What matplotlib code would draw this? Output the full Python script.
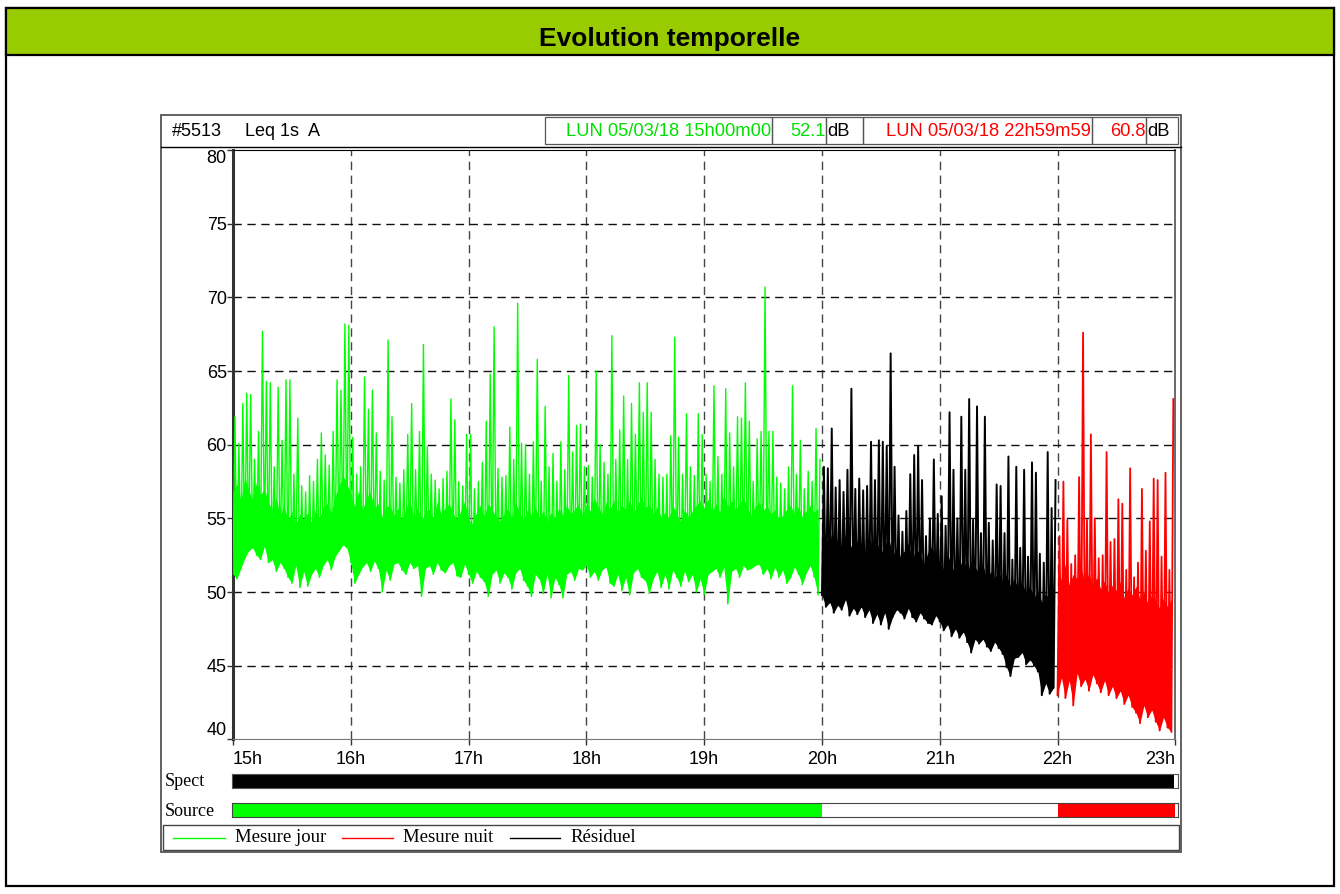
import numpy as np
import matplotlib
matplotlib.use('Agg')
import matplotlib.pyplot as plt
from matplotlib.patches import Rectangle

# Leq 1s lu par tranches de 2 minutes :
# minimum (bas), haut du nuage dense (coeur) et maximum (haut) de chaque tranche
jour_bas = [51.2, 50.9, 51.6, 52.3, 52.8, 53.0, 52.5, 52.2, 53.1, 52.0,
            52.2, 51.4, 52.0, 51.6, 51.0, 50.6, 51.8, 50.3, 51.4, 50.4,
            51.2, 51.6, 51.0, 51.8, 52.2, 51.5, 52.4, 52.8, 53.2, 53.0,
            52.0, 50.6, 51.2, 51.7, 52.0, 51.4, 52.1, 51.6, 50.0, 51.5,
            50.8, 51.9, 52.0, 51.5, 51.2, 52.0, 51.6, 51.8, 49.7, 51.6,
            51.8, 51.2, 52.0, 51.5, 51.3, 51.8, 52.0, 51.1, 51.0, 51.9,
            51.2, 50.6, 51.4, 51.0, 50.7, 49.7, 51.2, 51.5, 50.6, 51.3,
            51.0, 50.2, 51.3, 51.6, 50.8, 50.4, 49.7, 51.2, 50.9, 49.9,
            51.2, 49.6, 51.0, 50.5, 49.6, 51.2, 51.4, 50.8, 51.6, 51.5,
            51.8, 51.0, 51.4, 50.8, 51.5, 51.7, 50.6, 50.4, 51.2, 50.1,
            51.0, 49.8, 51.3, 51.6, 51.0, 50.8, 49.9, 50.9, 51.4, 50.3,
            51.2, 50.2, 51.5, 51.0, 50.4, 51.4, 50.7, 51.2, 50.0, 50.9,
            49.8, 51.2, 51.4, 51.6, 51.0, 51.7, 49.2, 51.4, 51.6, 51.0,
            51.8, 51.5, 51.6, 51.8, 51.9, 51.2, 51.6, 50.9, 51.7, 51.0,
            51.5, 50.6, 51.0, 51.7, 51.2, 50.5, 51.3, 51.8, 51.0, 49.8]
jour_coeur = [56.8, 57.4, 56.2, 57.8, 56.9, 56.3, 57.5, 56.6, 57.0, 56.1,
              55.6, 56.4, 55.2, 55.9, 54.8, 55.5, 54.6, 55.3, 54.9, 55.4,
              54.7, 55.6, 55.0, 55.8, 56.0, 55.4, 56.5, 57.2, 57.9, 57.4,
              56.6, 55.8, 56.9, 55.6, 56.4, 56.8, 55.7, 56.0, 55.1, 55.8,
              55.9, 55.2, 55.7, 54.9, 55.6, 56.3, 55.0, 55.8, 54.8, 55.5,
              55.6, 55.0, 56.1, 55.3, 55.7, 56.0, 55.4, 54.9, 55.5, 56.2,
              55.0, 54.6, 55.4, 55.9, 55.2, 56.0, 55.6, 55.1, 54.8, 55.3,
              55.7, 55.0, 56.1, 55.4, 54.9, 55.6, 55.2, 55.8, 55.0, 55.5,
              54.8, 55.4, 55.0, 55.7, 55.2, 55.9, 55.3, 55.6, 56.0, 55.2,
              56.0, 55.5, 56.4, 55.8, 55.3, 56.1, 55.6, 56.2, 55.4, 55.9,
              55.6, 56.3, 55.4, 55.9, 56.5, 55.7, 56.0, 55.3, 55.8, 55.1,
              55.4, 55.0, 55.9, 55.3, 54.8, 55.6, 55.1, 55.5, 55.9, 56.2,
              55.7, 56.3, 55.5, 56.0, 55.4, 56.6, 55.8, 56.2, 55.6, 56.0,
              56.4, 55.7, 55.2, 55.8, 56.1, 55.5, 55.9, 55.3, 55.6, 55.0,
              55.2, 55.6, 55.9, 55.3, 55.8, 55.1, 55.5, 55.9, 55.4, 55.7]
jour_haut = [61.9, 60.1, 62.8, 63.5, 63.4, 59.0, 60.9, 67.7, 64.3, 64.2,
             58.5, 63.9, 60.3, 64.4, 64.4, 58.0, 61.8, 57.2, 56.8, 57.9,
             57.5, 59.0, 60.8, 59.3, 58.6, 60.9, 64.4, 63.7, 68.2, 68.1,
             60.5, 58.0, 58.5, 64.6, 62.4, 63.7, 60.8, 58.2, 57.6, 67.1,
             61.9, 57.8, 57.4, 58.3, 60.7, 62.8, 58.3, 60.9, 66.8, 59.9,
             58.0, 57.6, 57.0, 57.7, 58.2, 63.1, 61.7, 57.5, 57.2, 60.7,
             60.7, 57.0, 57.5, 58.8, 61.6, 64.8, 68.0, 58.4, 57.8, 57.9,
             61.2, 59.0, 69.6, 60.1, 60.0, 58.0, 60.2, 65.8, 57.5, 62.6,
             58.5, 59.4, 57.5, 60.2, 58.3, 64.7, 59.5, 61.3, 61.4, 58.5,
             58.6, 57.8, 65.0, 60.0, 58.8, 58.0, 67.4, 59.0, 61.0, 63.3,
             59.0, 62.8, 60.7, 64.2, 62.2, 64.2, 62.2, 59.0, 58.0, 57.8,
             58.0, 60.6, 67.3, 60.5, 58.0, 62.1, 58.5, 57.9, 62.1, 60.7,
             58.0, 57.5, 64.0, 59.2, 58.0, 63.8, 60.8, 58.5, 61.9, 61.8,
             64.2, 61.6, 57.5, 60.4, 60.9, 70.7, 60.9, 60.9, 57.8, 57.4,
             57.0, 58.5, 64.0, 58.0, 60.3, 57.0, 58.2, 57.5, 61.1, 59.0]

residuel_bas = [49.8, 49.0, 49.3, 48.6, 49.1, 48.8, 49.5, 48.4, 48.9, 48.5,
                49.0, 48.3, 48.8, 47.9, 48.5, 47.8, 48.6, 47.5, 48.3, 48.8,
                48.6, 48.2, 48.9, 48.3, 48.0, 48.6, 48.2, 47.9, 47.8, 48.4,
                48.0, 47.4, 47.8, 47.0, 47.5, 46.9, 47.3, 46.6, 45.9, 46.8,
                46.5, 46.8, 46.3, 46.0, 46.6, 46.2, 45.8, 44.9, 44.3, 45.5,
                45.6, 45.9, 45.1, 45.4, 45.0, 44.6, 43.0, 43.8, 43.1, 43.5]
residuel_coeur = [54.0, 53.2, 54.3, 52.8, 53.6, 53.0, 53.9, 53.4, 52.7, 53.5,
                  53.1, 52.6, 53.8, 52.9, 53.4, 52.6, 53.2, 53.7, 52.5, 53.0,
                  52.4, 52.8, 53.3, 52.2, 53.0, 52.5, 51.9, 52.7, 53.1, 52.3,
                  52.0, 51.5, 52.6, 51.8, 51.2, 52.2, 51.6, 52.3, 51.0, 51.7,
                  51.3, 51.9, 50.8, 51.4, 50.9, 51.5, 50.6, 51.2, 50.4, 50.9,
                  50.2, 50.7, 49.8, 50.4, 49.6, 50.1, 49.3, 49.9, 49.5, 50.2]
residuel_haut = [58.5, 58.4, 61.1, 57.1, 57.6, 56.8, 58.3, 63.8, 57.0, 57.7,
                 56.9, 57.2, 60.2, 57.6, 60.3, 60.2, 59.9, 66.2, 58.5, 55.2,
                 54.1, 55.5, 58.0, 59.3, 59.9, 57.6, 53.8, 55.0, 59.0, 55.3,
                 56.5, 54.5, 62.2, 58.3, 55.0, 61.9, 58.3, 63.1, 54.9, 62.6,
                 54.0, 61.9, 54.7, 53.5, 57.3, 57.2, 54.0, 59.2, 52.2, 58.5,
                 53.0, 58.3, 52.4, 58.8, 58.1, 52.6, 52.0, 59.5, 55.7, 57.6]

nuit_bas = [43.0, 44.2, 42.8, 44.0, 42.3, 44.5, 43.6, 44.1, 43.3, 44.4,
            43.8, 43.2, 44.0, 43.0, 43.6, 42.8, 43.3, 42.4, 43.0, 42.2,
            41.8, 41.1, 42.3, 41.5, 42.0, 41.2, 40.6, 41.5, 40.8, 40.5]
nuit_coeur = [51.6, 50.8, 51.9, 50.5, 51.2, 50.9, 51.7, 50.6, 51.3, 50.4,
              51.0, 50.2, 50.8, 49.9, 50.5, 50.1, 50.7, 49.6, 50.3, 49.8,
              50.4, 49.5, 50.0, 49.2, 49.8, 49.4, 48.9, 49.6, 49.0, 49.5]
nuit_haut = [53.8, 57.5, 54.9, 51.9, 52.5, 57.8, 67.6, 54.9, 60.7, 55.0,
             52.3, 52.5, 59.5, 53.4, 53.6, 56.3, 56.0, 51.5, 58.4, 51.0,
             52.0, 57.0, 52.8, 54.8, 57.7, 57.6, 52.4, 58.1, 51.5, 63.1]

debut_jour = 15.0
debut_residuel = 20.0
debut_nuit = 22.0
pas_h = 2 / 60.0

heures = [15, 16, 17, 18, 19, 20, 21, 22, 23]
etiq_heures = ['15h', '16h', '17h', '18h', '19h', '20h', '21h', '22h', '23h']
niveaux = [40, 45, 50, 55, 60, 65, 70, 75, 80]

spect_periode = (15.0, 23.0)
source_debut = [15.0, 20.0, 22.0]
source_fin = [20.0, 22.0, 23.0]
source_couleur = ['#00ff00', 'white', '#ff0000']

VERT = '#00ff00'
VERT_TXT = '#00e000'
ROUGE = '#ff0000'
SANS = 'Liberation Sans'
SERIF = 'Liberation Serif'


def zigzag(debut, bas, haut):
    n = len(bas)
    idx = np.arange(n)
    t = np.empty(2 * n)
    v = np.empty(2 * n)
    t[0::2] = debut + idx * pas_h
    t[1::2] = debut + (idx + 0.5) * pas_h
    v[0::2] = bas
    v[1::2] = haut
    return t, v


def trace(ax, debut, bas, coeur, haut, couleur, lw):
    tb = debut + np.arange(len(bas)) * pas_h
    ax.fill_between(tb, bas, coeur, color=couleur, lw=0, zorder=3)
    t, v = zigzag(debut, bas, haut)
    ax.plot(t, v, color=couleur, lw=lw, zorder=3)


fig = plt.figure(figsize=(13.4, 8.94), dpi=100)

# fond en coordonnees pixel
fond = fig.add_axes([0, 0, 1, 1])
fond.set_xlim(0, 1340)
fond.set_ylim(894, 0)
fond.axis('off')

fond.add_patch(Rectangle((6, 8), 1328, 878, fill=False, ec='black', lw=1.6))
fond.add_patch(Rectangle((6, 8), 1328, 47, fc='#99cc00', ec='black', lw=1.6))
fond.text(670, 39, 'Evolution temporelle', ha='center', va='center',
          fontsize=19, fontweight='bold', family=SANS)

# cadre du graphique
fond.add_patch(Rectangle((161, 115), 1020, 737, fill=False, ec='#555555', lw=1.3))
fond.plot([161, 1181], [147, 147], color='black', lw=1)
fond.text(172, 131, '#5513', va='center', fontsize=13, family=SANS)
fond.text(245, 131, 'Leq 1s  A', va='center', fontsize=13, family=SANS)

for x0, w in [(545, 227), (772, 54), (826, 37), (863, 229), (1092, 54), (1146, 32)]:
    fond.add_patch(Rectangle((x0, 117), w, 27, fill=False, ec='#555555', lw=0.9))
fond.text(771, 131, 'LUN 05/03/18 15h00m00', ha='right', va='center',
          fontsize=13.2, family=SANS, color=VERT_TXT)
fond.text(826, 131, '52.1', ha='right', va='center', fontsize=13.2, family=SANS, color=VERT_TXT)
fond.text(827, 131, 'dB', ha='left', va='center', fontsize=13.2, family=SANS)
fond.text(1091, 131, 'LUN 05/03/18 22h59m59', ha='right', va='center',
          fontsize=13.2, family=SANS, color=ROUGE)
fond.text(1146, 131, '60.8', ha='right', va='center', fontsize=13.2, family=SANS, color=ROUGE)
fond.text(1147, 131, 'dB', ha='left', va='center', fontsize=13.2, family=SANS)

# courbe
ax = fig.add_axes([233 / 1340, 1 - 739.4 / 894, 942.3 / 1340, 589.4 / 894])
ax.set_xlim(heures[0], heures[-1])
ax.set_ylim(niveaux[0], niveaux[-1])
for h in heures[1:-1]:
    ax.axvline(h, color='#444444', lw=1, ls=(0, (6, 4)), zorder=1)
for n in niveaux[1:-1]:
    ax.axhline(n, color='#111111', lw=1, ls=(0, (6, 4)), zorder=1)

trace(ax, debut_jour, jour_bas, jour_coeur, jour_haut, VERT, 1.0)
trace(ax, debut_residuel, residuel_bas, residuel_coeur, residuel_haut, 'black', 1.4)
trace(ax, debut_nuit, nuit_bas, nuit_coeur, nuit_haut, ROUGE, 1.3)

ax.set_xticks(heures)
ax.set_xticklabels(etiq_heures)
ax.set_yticks(niveaux)
ax.set_yticklabels([str(n) for n in niveaux])
ax.tick_params(axis='both', direction='out', length=4, width=1, color='#333333',
               labelsize=13)
ax.tick_params(axis='x', pad=4)
ax.tick_params(axis='y', pad=0.5)
for lab in ax.get_xticklabels() + ax.get_yticklabels():
    lab.set_family(SANS)
xl = ax.get_xticklabels()
xl[0].set_ha('left')
xl[-1].set_ha('right')
yl = ax.get_yticklabels()
yl[0].set_va('bottom')
yl[-1].set_va('top')

ax.spines['left'].set_linewidth(2.2)
ax.spines['left'].set_color('#333333')
ax.spines['bottom'].set_color('#777777')
ax.spines['top'].set_color('black')
ax.spines['right'].set_color('#555555')
ax.spines['right'].set_linewidth(1.2)
fond.plot([1173.5, 1173.5], [150, 739], color='#444444', lw=1)

# bandeaux Spect et Source
x_gauche = heures[0] - 1 / 117.8
x_droite = heures[-1] + 2.5 / 117.8
ax_spect = fig.add_axes([232 / 1340, 1 - 788 / 894, 946 / 1340, 14 / 894])
ax_spect.barh(0, spect_periode[1] - spect_periode[0], left=spect_periode[0] - 1 / 117.8,
              height=1, color='black')
ax_spect.set_xlim(x_gauche, x_droite)
ax_spect.set_ylim(-0.5, 0.5)
ax_spect.set_xticks([])
ax_spect.set_yticks([])
for s in ax_spect.spines.values():
    s.set_color('#555555')

ax_source = fig.add_axes([232 / 1340, 1 - 817 / 894, 946 / 1340, 14 / 894])
for d, f, c in zip(source_debut, source_fin, source_couleur):
    ax_source.barh(0, f - d, left=d, height=1, color=c)
ax_source.set_xlim(x_gauche, x_droite)
ax_source.set_ylim(-0.5, 0.5)
ax_source.set_xticks([])
ax_source.set_yticks([])
for s in ax_source.spines.values():
    s.set_color('#444444')

fond.text(165, 782, 'Spect', va='center', fontsize=13, family=SERIF)
fond.text(165, 811, 'Source', va='center', fontsize=13, family=SERIF)

# legende
fond.add_patch(Rectangle((163, 825), 1016, 25, fill=False, ec='#444444', lw=1))
for x0, x1, c, nom in [(173, 225, VERT, 'Mesure jour'), (342, 393, ROUGE, 'Mesure nuit'),
                       (510, 560, 'black', 'Résiduel')]:
    fond.plot([x0, x1], [838, 838], color=c, lw=1)
    fond.text(x1 + 10, 838, nom, va='center', fontsize=13.5, family=SERIF)

fig.savefig('out.png', dpi=100)
